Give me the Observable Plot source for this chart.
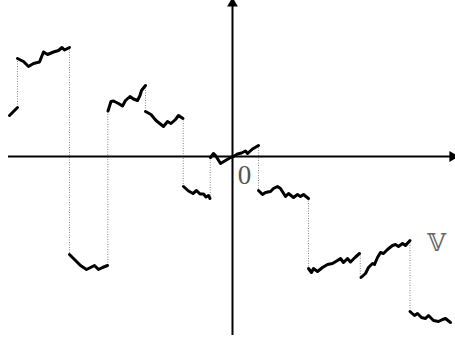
<!DOCTYPE html>
<html><head><meta charset="utf-8">
<script src="https://cdn.jsdelivr.net/npm/d3@7"></script>
<script src="https://cdn.jsdelivr.net/npm/@observablehq/plot@0.6"></script>
<style>body{margin:0;background:#fff}</style>
</head><body><div id="chart"></div>
<script>
// Piecewise jagged curve, segments (x, y)
const segA = [[-2.23,0.41],[-2.19,0.45],[-2.15,0.49]];
const segB = [[-2.15,0.98],[-2.09,0.95],[-2.04,0.90],[-1.99,0.93],[-1.93,0.945],[-1.89,1.045],[-1.85,1.02],[-1.79,1.045],[-1.74,1.06],[-1.705,1.09],[-1.68,1.065],[-1.63,1.09]];
const segC = [[-1.63,-0.98],[-1.57,-1.04],[-1.52,-1.09],[-1.46,-1.13],[-1.42,-1.11],[-1.38,-1.09],[-1.34,-1.13],[-1.30,-1.11],[-1.25,-1.09]];
const segD = [[-1.245,0.455],[-1.215,0.55],[-1.19,0.555],[-1.14,0.53],[-1.10,0.505],[-1.07,0.56],[-1.025,0.60],[-0.99,0.575],[-0.95,0.56],[-0.925,0.61],[-0.91,0.66],[-0.87,0.71]];
const segE = [[-0.87,0.45],[-0.815,0.42],[-0.765,0.36],[-0.74,0.34],[-0.69,0.30],[-0.65,0.35],[-0.615,0.33],[-0.57,0.37],[-0.54,0.41],[-0.495,0.38]];
const segF = [[-0.49,-0.30],[-0.44,-0.345],[-0.395,-0.37],[-0.36,-0.34],[-0.325,-0.375],[-0.29,-0.375],[-0.265,-0.405],[-0.24,-0.39],[-0.225,-0.42]];
const segG = [[-0.22,-0.01],[-0.19,0.03],[-0.17,0.01],[-0.12,-0.07],[-0.07,-0.04],[-0.02,-0.01],[0.01,0.0],[0.05,0.025],[0.09,0.035],[0.13,0.055],[0.15,0.03],[0.20,0.075],[0.26,0.11]];
const segI = [[0.26,-0.34],[0.30,-0.38],[0.33,-0.36],[0.38,-0.35],[0.41,-0.32],[0.45,-0.30],[0.48,-0.32],[0.53,-0.40],[0.56,-0.37],[0.61,-0.41],[0.65,-0.38],[0.68,-0.40],[0.71,-0.38],[0.76,-0.42]];
const segJ = [[0.76,-1.12],[0.79,-1.16],[0.81,-1.12],[0.85,-1.15],[0.90,-1.11],[0.95,-1.08],[1.00,-1.07],[1.05,-1.04],[1.08,-1.02],[1.11,-1.06],[1.15,-1.02],[1.18,-1.055],[1.23,-1.005],[1.27,-0.97]];
const segK = [[1.285,-1.21],[1.33,-1.17],[1.36,-1.11],[1.40,-1.07],[1.42,-1.08],[1.45,-1.01],[1.48,-0.96],[1.51,-0.97],[1.55,-0.93],[1.60,-0.89],[1.63,-0.88],[1.66,-0.90],[1.70,-0.87],[1.73,-0.89],[1.775,-0.84]];
const segL = [[1.775,-1.55],[1.82,-1.59],[1.85,-1.57],[1.89,-1.61],[1.93,-1.62],[1.96,-1.59],[2.01,-1.64],[2.06,-1.65],[2.10,-1.63],[2.13,-1.62],[2.18,-1.66]];

const xAxisExtent = [-2.24, 2.20];
const yAxisExtent = [-1.79, 1.53];
const labels = [{x:0.12, y:-0.19, text:"0"}, {x:2.04, y:-0.87, text:"𝕍"}];

const segments = [segA,segB,segC,segD,segE,segF,segG,segI,segJ,segK,segL];
const rows = segments.flatMap((s,i)=>s.map(([x,y])=>({seg:i,x,y})));
const jumps = segments.slice(1).map((s,i)=>{
  const prev = segments[i][segments[i].length-1];
  return {x:(s[0][0]+prev[0])/2, y1:prev[1], y2:s[0][1]};
});

const chart = Plot.plot({
  width:455, height:344,
  marginTop:0, marginRight:0, marginBottom:0, marginLeft:0,
  x:{domain:[-2.32,2.23], axis:null},
  y:{domain:[-1.88,1.56], axis:null},
  marks:[
    Plot.ruleX(jumps, {x:"x", y1:"y1", y2:"y2", stroke:"#888", strokeWidth:1, strokeDasharray:"1,1.5"}),
    Plot.ruleY([0], {x1:xAxisExtent[0], x2:xAxisExtent[1], stroke:"#000", strokeWidth:2}),
    Plot.ruleX([0], {y1:yAxisExtent[0], y2:yAxisExtent[1], stroke:"#000", strokeWidth:2}),
    Plot.dot([{x:xAxisExtent[1], y:0}], {x:"x", y:"y", symbol:"triangle", r:4, fill:"#000", stroke:null, rotate:90}),
    Plot.dot([{x:0, y:yAxisExtent[1]}], {x:"x", y:"y", symbol:"triangle", r:4, fill:"#000", stroke:null}),
    Plot.line(rows, {x:"x", y:"y", z:"seg", stroke:"#000", strokeWidth:3, strokeLinejoin:"round", strokeLinecap:"round", curve:"linear"}),
    Plot.text(labels.slice(0,1), {x:"x", y:"y", text:"text", fontSize:27, fontFamily:"Liberation Serif", fill:"#555", lineAnchor:"middle"}),
    Plot.text(labels.slice(1), {x:"x", y:"y", text:"text", fontSize:24, fontFamily:"DejaVu Serif", fill:"#666", lineAnchor:"middle"})
  ]
});
document.getElementById("chart").appendChild(chart);
</script>
</body></html>
